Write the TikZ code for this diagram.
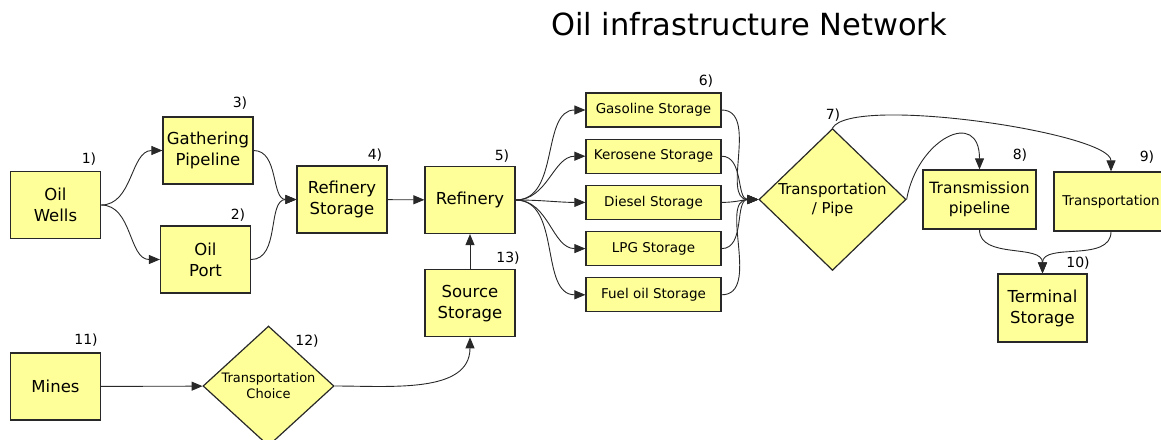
\documentclass[tikz,border=0pt]{standalone}
\usepackage{fontspec}
\setmainfont{DejaVu Sans}
\usetikzlibrary{shapes.geometric, positioning, arrows.meta}
\definecolor{boxfill}{RGB}{255,255,153}
\definecolor{boxline}{RGB}{40,40,40}
\tikzset{
  ->,
  >={Triangle[length=11pt,width=9pt]},
  x=1pt, y=1pt,
  node distance=11pt,
  every edge/.style={draw, boxline, line width=0.9pt},
  curve/.style={out=0, in=180},
  stage/.style={draw=boxline, fill=boxfill, line width=1.2pt, align=center,
    inner sep=0pt, minimum width=90pt, minimum height=67pt,
    font=\fontsize{16.5}{21}\selectfont},
  tank/.style={stage, minimum width=135pt, minimum height=34pt,
    font=\fontsize{13.5}{16}\selectfont},
  choice/.style={stage, diamond},
  tag/.style={inner sep=0pt, font=\fontsize{14}{16}\selectfont},
}

\begin{document}
\begin{tikzpicture}
      \useasboundingbox (0,0) rectangle (1161,-439);

      \node[anchor=base, font=\fontsize{30.5}{34}\selectfont] (title) at (749,-35) {Oil infrastructure Network};

      \node[stage]  (wells) at (55.5,-205) {Oil\\Wells};
      \node[stage]  (gather) at (208,-150.5) {Gathering\\Pipeline};
      \node[stage]  (port) at (205.5,-259.5) {Oil\\Port};
      \node[stage]  (rstore) at (342,-199.5) {Refinery\\Storage};
      \node[stage]  (refinery) at (470,-200) {Refinery};
      \node[stage,below=35pt of refinery]  (source) {Source\\Storage};
      \node[stage]  (mines) at (55.5,-386.5) {Mines};
      \node[choice,minimum width=131pt,minimum height=103pt,font=\fontsize{13}{16}\selectfont]
            (tchoice) at (268.5,-386) {Transportation\\Choice};

      \node[tank]  (gas) at (653.5,-110) {Gasoline Storage};
      \node[tank,below=of gas]  (kero) {Kerosene Storage};
      \node[tank,below=of kero]  (diesel) {Diesel Storage};
      \node[tank,below=of diesel]  (lpg) {LPG Storage};
      \node[tank,below=of lpg]  (fuel) {Fuel oil Storage};

      \node[choice,minimum width=147pt,minimum height=111pt,font=\fontsize{15}{19}\selectfont]
            (tpipe) at (832.5,-199.5) {Transportation\\/ Pipe};
      \node[stage,minimum width=113pt,minimum height=59pt,font=\fontsize{15.5}{20}\selectfont]
            (tline) at (979.5,-199.5) {Transmission\\pipeline};
      \node[stage,minimum width=114pt,minimum height=59pt,font=\fontsize{13.5}{16}\selectfont]
            (transp) at (1111,-201.5) {Transportation};
      \node[stage,minimum width=89pt,minimum height=68pt]  (terminal) at (1042.5,-308) {Terminal\\Storage};

      % step numbers
      \node[tag] (n1) at (89,-159) {1)};
      \node[tag] (n2) at (238,-215) {2)};
      \node[tag] (n3) at (240,-103) {3)};
      \node[tag] (n4) at (375,-155) {4)};
      \node[tag] (n5) at (502,-156) {5)};
      \node[tag] (n6) at (706,-81) {6)};
      \node[tag] (n7) at (833,-115) {7)};
      \node[tag] (n8) at (1020,-155) {8)};
      \node[tag] (n9) at (1147,-157) {9)};
      \node[tag] (n10) at (1078,-263) {10)};
      \node[tag] (n11) at (86,-340) {11)};
      \node[tag] (n12) at (307,-341) {12)};
      \node[tag] (n13) at (508,-258) {13)};

      \path (wells.east) edge[curve] (gather.west)
            (wells.east) edge[curve] (port.west)
            (gather.east) edge[curve] (rstore.west)
            (port.east) edge[curve] (rstore.west)
            (rstore) edge (refinery)
            (source) edge (refinery)
            (refinery.east) edge[curve] (gas.west)
            (refinery.east) edge[curve] (kero.west)
            (refinery.east) edge[curve] (diesel.west)
            (refinery.east) edge[curve] (lpg.west)
            (refinery.east) edge[curve] (fuel.west)
            (gas.east) edge[curve] (tpipe.west)
            (kero.east) edge[curve] (tpipe.west)
            (diesel.east) edge[curve] (tpipe.west)
            (lpg.east) edge[curve] (tpipe.west)
            (fuel.east) edge[curve] (tpipe.west)
            (tpipe.east) edge[out=80,in=90,looseness=2] (tline.north)
            (tpipe.north) edge[out=60,in=90,looseness=0.35] (transp.north)
            (tline.south) edge[out=-90,in=90] (terminal.north)
            (transp.south) edge[out=-90,in=90] (terminal.north)
            (mines) edge (tchoice)
            (tchoice.east) edge[out=0,in=-90] (source.south);
    \end{tikzpicture}
\end{document}
